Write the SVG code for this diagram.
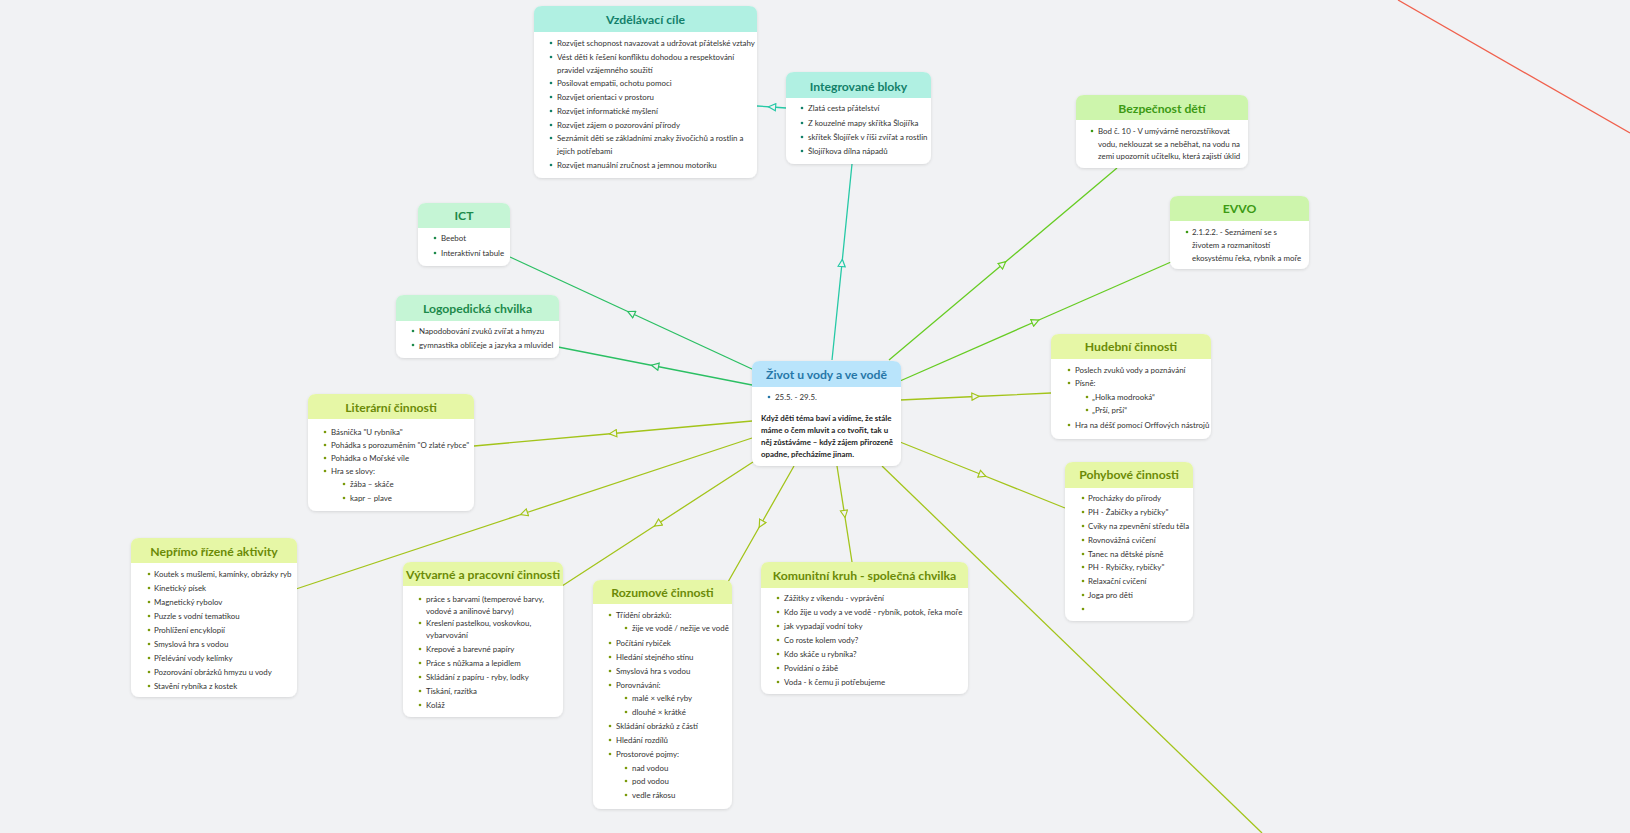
<svg xmlns="http://www.w3.org/2000/svg" width="1630" height="833" viewBox="0 0 1630 833">
<defs>
<style>
.t{font-family:Lato,"Noto Sans",sans-serif;font-size:7.9px;fill:#333}
.p{font-family:Lato,"Noto Sans",sans-serif;font-size:7.9px;font-weight:700;fill:#222}
.h{font-family:Lato,"Noto Sans",sans-serif;font-size:12.2px;font-weight:700;text-anchor:middle}
.box{fill:#fff;filter:url(#sh)}
.c{fill:none;stroke-width:1.3}
.teal .hd{fill:#b0f0e2}.teal .h{fill:#13806a}.teal circle{fill:#13806a}
.green .hd{fill:#c5f5d5}.green .h{fill:#1d8a4b}.green circle{fill:#1d8a4b}
.lime .hd{fill:#cdf5ac}.lime .h{fill:#3c9a14}.lime circle{fill:#3c9a14}
.olive .hd{fill:#e6f7a6}.olive .h{fill:#6b8a06}.olive circle{fill:#7a9a0a}
.blue .hd{fill:#b9e4fb}.blue .h{fill:#2677a8}.blue circle{fill:#2677a8}
</style>
<filter id="sh" x="-10%" y="-10%" width="120%" height="130%">
<feDropShadow dx="0" dy="1" stdDeviation="1.5" flood-color="#000" flood-opacity="0.12"/>
</filter>
<marker id="aT" viewBox="0 0 10 10" refX="5" refY="5" markerWidth="9" markerHeight="9" markerUnits="userSpaceOnUse" orient="auto"><path d="M1,1 L9,5 L1,9 Z" fill="#f1f2f4" stroke="#26c9a6" stroke-width="1.3"/></marker>
<marker id="aG" viewBox="0 0 10 10" refX="5" refY="5" markerWidth="9" markerHeight="9" markerUnits="userSpaceOnUse" orient="auto"><path d="M1,1 L9,5 L1,9 Z" fill="#f1f2f4" stroke="#2bbf63" stroke-width="1.3"/></marker>
<marker id="aL" viewBox="0 0 10 10" refX="5" refY="5" markerWidth="9" markerHeight="9" markerUnits="userSpaceOnUse" orient="auto"><path d="M1,1 L9,5 L1,9 Z" fill="#f1f2f4" stroke="#66cc22" stroke-width="1.3"/></marker>
<marker id="aO" viewBox="0 0 10 10" refX="5" refY="5" markerWidth="9" markerHeight="9" markerUnits="userSpaceOnUse" orient="auto"><path d="M1,1 L9,5 L1,9 Z" fill="#f1f2f4" stroke="#a3c41a" stroke-width="1.3"/></marker>
</defs>
<rect width="1630" height="833" fill="#f1f2f4"/>

<g id="connectors">
<path class="c" stroke="#26c9a6" marker-mid="url(#aT)" d="M832,360 L842,263 L852,164"/>
<path class="c" stroke="#26c9a6" marker-mid="url(#aT)" d="M786,108 L772,107 L757,106"/>
<path class="c" stroke="#2bbf63" marker-mid="url(#aG)" d="M752,369 L631,313 L510,257"/>
<path class="c" stroke="#2bbf63" marker-mid="url(#aG)" d="M752,385 L655,366 L558,347"/>
<path class="c" stroke="#66cc22" marker-mid="url(#aL)" d="M889,360 L1003,264 L1117,168"/>
<path class="c" stroke="#66cc22" marker-mid="url(#aL)" d="M900,381 L1035.5,321.5 L1171,262"/>
<path class="c" stroke="#a3c41a" marker-mid="url(#aO)" d="M900,400 L975.5,396.5 L1051,393"/>
<path class="c" stroke="#a3c41a" marker-mid="url(#aO)" d="M900,442 L982.5,475 L1065,508"/>
<path class="c" stroke="#a3c41a" marker-mid="url(#aO)" d="M752,421 L613,433.5 L474,446"/>
<path class="c" stroke="#a3c41a" marker-mid="url(#aO)" d="M752,438 L524,513.5 L296,589"/>
<path class="c" stroke="#a3c41a" marker-mid="url(#aO)" d="M753,462 L657.5,524 L562,586"/>
<path class="c" stroke="#a3c41a" marker-mid="url(#aO)" d="M794,466 L761,524 L728,582"/>
<path class="c" stroke="#a3c41a" marker-mid="url(#aO)" d="M837,466 L844.5,514 L852,562"/>
<path class="c" stroke="#a3c41a" d="M882,466 L1262,833"/>
<path class="c" stroke="#f0604c" d="M1398,0 L1630,133"/>
</g>

<g id="vzdelavaci-cile" class="teal">
<rect class="box" x="534" y="6" width="223" height="172" rx="8"/>
<path class="hd" d="M534,32 V14 Q534,6 542,6 H749 Q757,6 757,14 V32 Z"/>
<text class="h" x="645.5" y="23.5">Vzdělávací cíle</text>
<circle cx="551" cy="43" r="1.3"/><text class="t" x="557" y="45.6">Rozvíjet schopnost navazovat a udržovat přátelské vztahy</text>
<circle cx="551" cy="57" r="1.3"/><text class="t" x="557" y="59.6">Vést děti k řešení konfliktu dohodou a respektování</text>
<text class="t" x="557" y="72.6">pravidel vzájemného soužití</text>
<circle cx="551" cy="83" r="1.3"/><text class="t" x="557" y="85.6">Posilovat empatii, ochotu pomoci</text>
<circle cx="551" cy="97" r="1.3"/><text class="t" x="557" y="99.6">Rozvíjet orientaci v prostoru</text>
<circle cx="551" cy="111" r="1.3"/><text class="t" x="557" y="113.6">Rozvíjet informatické myšlení</text>
<circle cx="551" cy="125" r="1.3"/><text class="t" x="557" y="127.6">Rozvíjet zájem o pozorování přírody</text>
<circle cx="551" cy="138" r="1.3"/><text class="t" x="557" y="140.6">Seznámit děti se základními znaky živočichů a rostlin a</text>
<text class="t" x="557" y="153.6">jejich potřebami</text>
<circle cx="551" cy="165" r="1.3"/><text class="t" x="557" y="167.6">Rozvíjet manuální zručnost a jemnou motoriku</text>
</g>

<g id="integrovane-bloky" class="teal">
<rect class="box" x="786" y="72" width="145" height="92" rx="8"/>
<path class="hd" d="M786,98 V80 Q786,72 794,72 H923 Q931,72 931,80 V98 Z"/>
<text class="h" x="858.5" y="90.5">Integrované bloky</text>
<circle cx="802" cy="108" r="1.3"/><text class="t" x="808" y="110.6">Zlatá cesta přátelství</text>
<circle cx="802" cy="123" r="1.3"/><text class="t" x="808" y="125.6">Z kouzelné mapy skřítka Šlojířka</text>
<circle cx="802" cy="137" r="1.3"/><text class="t" x="808" y="139.6">skřítek Šlojířek v říši zvířat a rostlin</text>
<circle cx="802" cy="151" r="1.3"/><text class="t" x="808" y="153.6">Šlojířkova dílna nápadů</text>
</g>

<g id="bezpecnost-deti" class="lime">
<rect class="box" x="1076" y="95" width="172" height="73" rx="8"/>
<path class="hd" d="M1076,120 V103 Q1076,95 1084,95 H1240 Q1248,95 1248,103 V120 Z"/>
<text class="h" x="1162" y="112.5">Bezpečnost dětí</text>
<circle cx="1092" cy="131" r="1.3"/><text class="t" x="1098" y="133.6">Bod č. 10 - V umývárně nerozstřikovat</text>
<text class="t" x="1098" y="146.6">vodu, neklouzat se a neběhat, na vodu na</text>
<text class="t" x="1098" y="158.6">zemi upozornit učitelku, která zajistí úklid</text>
</g>

<g id="evvo" class="lime">
<rect class="box" x="1170" y="196" width="139" height="73" rx="8"/>
<path class="hd" d="M1170,221 V204 Q1170,196 1178,196 H1301 Q1309,196 1309,204 V221 Z"/>
<text class="h" x="1239.5" y="212.5">EVVO</text>
<circle cx="1187" cy="232" r="1.3"/><text class="t" x="1192" y="234.6">2.1.2.2. - Seznámení se s</text>
<text class="t" x="1192" y="247.6">životem a rozmanitostí</text>
<text class="t" x="1192" y="260.6">ekosystému řeka, rybník a moře</text>
</g>

<g id="ict" class="green">
<rect class="box" x="418" y="203" width="92" height="63" rx="8"/>
<path class="hd" d="M418,228 V211 Q418,203 426,203 H502 Q510,203 510,211 V228 Z"/>
<text class="h" x="464" y="219.5">ICT</text>
<circle cx="435" cy="238" r="1.3"/><text class="t" x="441" y="240.6">Beebot</text>
<circle cx="435" cy="253" r="1.3"/><text class="t" x="441" y="255.6">Interaktivní tabule</text>
</g>

<g id="logopedicka-chvilka" class="green">
<rect class="box" x="396" y="295" width="163" height="63" rx="8"/>
<path class="hd" d="M396,321 V303 Q396,295 404,295 H551 Q559,295 559,303 V321 Z"/>
<text class="h" x="477.5" y="312.5">Logopedická chvilka</text>
<circle cx="413" cy="331" r="1.3"/><text class="t" x="419" y="333.6">Napodobování zvuků zvířat a hmyzu</text>
<circle cx="413" cy="345" r="1.3"/><text class="t" x="419" y="347.6">gymnastika obličeje a jazyka a mluvidel</text>
</g>

<g id="literarni-cinnosti" class="olive">
<rect class="box" x="308" y="394" width="166" height="117" rx="8"/>
<path class="hd" d="M308,419 V402 Q308,394 316,394 H466 Q474,394 474,402 V419 Z"/>
<text class="h" x="391" y="411.5">Literární činnosti</text>
<circle cx="325" cy="432" r="1.3"/><text class="t" x="331" y="434.6">Básnička "U rybníka"</text>
<circle cx="325" cy="445" r="1.3"/><text class="t" x="331" y="447.6">Pohádka s porozuměním "O zlaté rybce"</text>
<circle cx="325" cy="458" r="1.3"/><text class="t" x="331" y="460.6">Pohádka o Mořské víle</text>
<circle cx="325" cy="471" r="1.3"/><text class="t" x="331" y="473.6">Hra se slovy:</text>
<circle cx="344" cy="484" r="1.3"/><text class="t" x="350" y="486.6">žába – skáče</text>
<circle cx="344" cy="498" r="1.3"/><text class="t" x="350" y="500.6">kapr – plave</text>
</g>

<g id="zivot-u-vody" class="blue">
<rect class="box" x="752" y="361" width="149" height="105" rx="8"/>
<path class="hd" d="M752,387 V369 Q752,361 760,361 H893 Q901,361 901,369 V387 Z"/>
<text class="h" x="826.5" y="378.5">Život u vody a ve vodě</text>
<circle cx="769" cy="397" r="1.3"/><text class="t" x="775" y="399.6">25.5.  - 29.5.</text>
<text class="p" x="761" y="420.5">Když děti téma baví a vidíme, že stále</text>
<text class="p" x="761" y="432.8">máme o čem mluvit a co tvořit, tak u</text>
<text class="p" x="761" y="445.1">něj zůstáváme – když zájem přirozeně</text>
<text class="p" x="761" y="457.4">opadne, přecházíme jinam.</text>
</g>

<g id="hudebni-cinnosti" class="olive">
<rect class="box" x="1051" y="334" width="160" height="105" rx="8"/>
<path class="hd" d="M1051,359 V342 Q1051,334 1059,334 H1203 Q1211,334 1211,342 V359 Z"/>
<text class="h" x="1131" y="350.5">Hudební činnosti</text>
<circle cx="1069" cy="370" r="1.3"/><text class="t" x="1075" y="372.6">Poslech zvuků vody a poznávání</text>
<circle cx="1069" cy="383" r="1.3"/><text class="t" x="1075" y="385.6">Písně:</text>
<circle cx="1087" cy="397" r="1.3"/><text class="t" x="1092" y="399.6">„Holka modrooká“</text>
<circle cx="1087" cy="410" r="1.3"/><text class="t" x="1092" y="412.6">„Prší, prší“</text>
<circle cx="1069" cy="425" r="1.3"/><text class="t" x="1075" y="427.6">Hra na déšť pomocí Orffových nástrojů</text>
</g>

<g id="pohybove-cinnosti" class="olive">
<rect class="box" x="1065" y="462" width="128" height="159" rx="8"/>
<path class="hd" d="M1065,488 V470 Q1065,462 1073,462 H1185 Q1193,462 1193,470 V488 Z"/>
<text class="h" x="1129" y="478.5">Pohybové činnosti</text>
<circle cx="1083" cy="498" r="1.3"/><text class="t" x="1088" y="500.6">Procházky do přírody</text>
<circle cx="1083" cy="512" r="1.3"/><text class="t" x="1088" y="514.6">PH - Žabičky a rybičky"</text>
<circle cx="1083" cy="526" r="1.3"/><text class="t" x="1088" y="528.6">Cviky na zpevnění středu těla</text>
<circle cx="1083" cy="540" r="1.3"/><text class="t" x="1088" y="542.6">Rovnovážná cvičení</text>
<circle cx="1083" cy="554" r="1.3"/><text class="t" x="1088" y="556.6">Tanec na dětské písně</text>
<circle cx="1083" cy="567" r="1.3"/><text class="t" x="1088" y="569.6">PH - Rybičky, rybičky"</text>
<circle cx="1083" cy="581" r="1.3"/><text class="t" x="1088" y="583.6">Relaxační cvičení</text>
<circle cx="1083" cy="595" r="1.3"/><text class="t" x="1088" y="597.6">Joga pro děti</text>
<circle cx="1083" cy="609" r="1.3"/>
</g>

<g id="neprimo-rizene-aktivity" class="olive">
<rect class="box" x="131" y="538" width="166" height="159" rx="8"/>
<path class="hd" d="M131,563 V546 Q131,538 139,538 H289 Q297,538 297,546 V563 Z"/>
<text class="h" x="214" y="555.5">Nepřímo řízené aktivity</text>
<circle cx="149" cy="574" r="1.3"/><text class="t" x="154" y="576.6">Koutek s mušlemi, kamínky, obrázky ryb</text>
<circle cx="149" cy="588" r="1.3"/><text class="t" x="154" y="590.6">Kinetický písek</text>
<circle cx="149" cy="602" r="1.3"/><text class="t" x="154" y="604.6">Magnetický rybolov</text>
<circle cx="149" cy="616" r="1.3"/><text class="t" x="154" y="618.6">Puzzle s vodní tematikou</text>
<circle cx="149" cy="630" r="1.3"/><text class="t" x="154" y="632.6">Prohlížení encyklopií</text>
<circle cx="149" cy="644" r="1.3"/><text class="t" x="154" y="646.6">Smyslová hra s vodou</text>
<circle cx="149" cy="658" r="1.3"/><text class="t" x="154" y="660.6">Přelévání vody kelímky</text>
<circle cx="149" cy="672" r="1.3"/><text class="t" x="154" y="674.6">Pozorování obrázků hmyzu u vody</text>
<circle cx="149" cy="686" r="1.3"/><text class="t" x="154" y="688.6">Stavění rybníka z kostek</text>
</g>

<g id="vytvarne-a-pracovni-cinnosti" class="olive">
<rect class="box" x="403" y="562" width="160" height="155" rx="8"/>
<path class="hd" d="M403,586 V570 Q403,562 411,562 H555 Q563,562 563,570 V586 Z"/>
<text class="h" x="483" y="578.5">Výtvarné a pracovní činnosti</text>
<circle cx="420" cy="599" r="1.3"/><text class="t" x="426" y="601.6">práce s barvami (temperové barvy,</text>
<text class="t" x="426" y="613.6">vodové a anilinové barvy)</text>
<circle cx="420" cy="623" r="1.3"/><text class="t" x="426" y="625.6">Kreslení pastelkou, voskovkou,</text>
<text class="t" x="426" y="637.6">vybarvování</text>
<circle cx="420" cy="649" r="1.3"/><text class="t" x="426" y="651.6">Krepové a barevné papíry</text>
<circle cx="420" cy="663" r="1.3"/><text class="t" x="426" y="665.6">Práce s nůžkama a lepidlem</text>
<circle cx="420" cy="677" r="1.3"/><text class="t" x="426" y="679.6">Skládání z papíru - ryby, lodky</text>
<circle cx="420" cy="691" r="1.3"/><text class="t" x="426" y="693.6">Tiskání, razítka</text>
<circle cx="420" cy="705" r="1.3"/><text class="t" x="426" y="707.6">Koláž</text>
</g>

<g id="rozumove-cinnosti" class="olive">
<rect class="box" x="593" y="580" width="139" height="229" rx="8"/>
<path class="hd" d="M593,604 V588 Q593,580 601,580 H724 Q732,580 732,588 V604 Z"/>
<text class="h" x="662.5" y="596.5">Rozumové činnosti</text>
<circle cx="610" cy="615" r="1.3"/><text class="t" x="616" y="617.6">Třídění obrázků:</text>
<circle cx="626" cy="628" r="1.3"/><text class="t" x="632" y="630.6">žije ve vodě / nežije ve vodě</text>
<circle cx="610" cy="643" r="1.3"/><text class="t" x="616" y="645.6">Počítání rybiček</text>
<circle cx="610" cy="657" r="1.3"/><text class="t" x="616" y="659.6">Hledání stejného stínu</text>
<circle cx="610" cy="671" r="1.3"/><text class="t" x="616" y="673.6">Smyslová hra s vodou</text>
<circle cx="610" cy="685" r="1.3"/><text class="t" x="616" y="687.6">Porovnávání:</text>
<circle cx="626" cy="698" r="1.3"/><text class="t" x="632" y="700.6">malé × velké ryby</text>
<circle cx="626" cy="712" r="1.3"/><text class="t" x="632" y="714.6">dlouhé × krátké</text>
<circle cx="610" cy="726" r="1.3"/><text class="t" x="616" y="728.6">Skládání obrázků z částí</text>
<circle cx="610" cy="740" r="1.3"/><text class="t" x="616" y="742.6">Hledání rozdílů</text>
<circle cx="610" cy="754" r="1.3"/><text class="t" x="616" y="756.6">Prostorové pojmy:</text>
<circle cx="626" cy="768" r="1.3"/><text class="t" x="632" y="770.6">nad vodou</text>
<circle cx="626" cy="781" r="1.3"/><text class="t" x="632" y="783.6">pod vodou</text>
<circle cx="626" cy="795" r="1.3"/><text class="t" x="632" y="797.6">vedle rákosu</text>
</g>

<g id="komunitni-kruh" class="olive">
<rect class="box" x="761" y="562" width="207" height="132" rx="8"/>
<path class="hd" d="M761,588 V570 Q761,562 769,562 H960 Q968,562 968,570 V588 Z"/>
<text class="h" x="864.5" y="579.5">Komunitní kruh - společná chvilka</text>
<circle cx="778" cy="598" r="1.3"/><text class="t" x="784" y="600.6">Zážitky z víkendu - vyprávění</text>
<circle cx="778" cy="612" r="1.3"/><text class="t" x="784" y="614.6">Kdo žije u vody  a ve vodě -  rybník, potok, řeka  moře</text>
<circle cx="778" cy="626" r="1.3"/><text class="t" x="784" y="628.6">jak vypadají vodní toky</text>
<circle cx="778" cy="640" r="1.3"/><text class="t" x="784" y="642.6">Co roste kolem vody?</text>
<circle cx="778" cy="654" r="1.3"/><text class="t" x="784" y="656.6">Kdo skáče u rybníka?</text>
<circle cx="778" cy="668" r="1.3"/><text class="t" x="784" y="670.6">Povídání o žábě</text>
<circle cx="778" cy="682" r="1.3"/><text class="t" x="784" y="684.6">Voda - k čemu ji potřebujeme</text>
</g>
</svg>
